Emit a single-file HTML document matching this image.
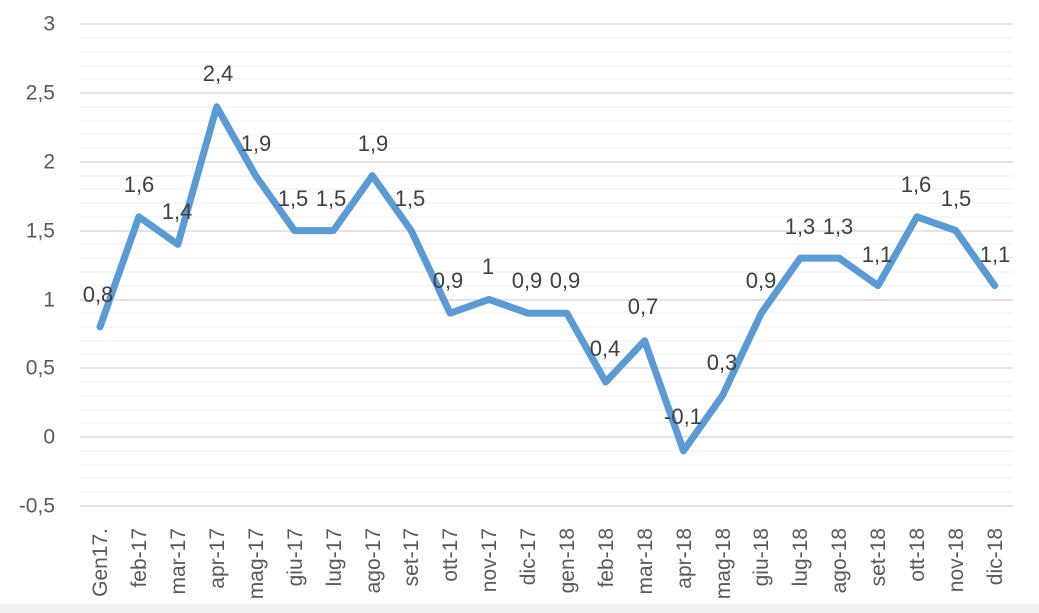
<!DOCTYPE html>
<html><head><meta charset="utf-8"><style>
html,body{margin:0;padding:0;background:#fff;}
svg{display:block;font-family:"Liberation Sans",sans-serif;}
</style></head><body>
<svg width="1039" height="613" viewBox="0 0 1039 613">
<rect x="0" y="604" width="1039" height="9" fill="#f0f0f0"/>
<g stroke="#f2f2f2" stroke-width="1.2">
<line x1="80" x2="1013" y1="38" y2="38"/><line x1="80" x2="1013" y1="52" y2="52"/><line x1="80" x2="1013" y1="66" y2="66"/><line x1="80" x2="1013" y1="79" y2="79"/>
<line x1="80" x2="1013" y1="107" y2="107"/><line x1="80" x2="1013" y1="121" y2="121"/><line x1="80" x2="1013" y1="134" y2="134"/><line x1="80" x2="1013" y1="148" y2="148"/>
<line x1="80" x2="1013" y1="176" y2="176"/><line x1="80" x2="1013" y1="189" y2="189"/><line x1="80" x2="1013" y1="203" y2="203"/><line x1="80" x2="1013" y1="217" y2="217"/>
<line x1="80" x2="1013" y1="244" y2="244"/><line x1="80" x2="1013" y1="258" y2="258"/><line x1="80" x2="1013" y1="272" y2="272"/><line x1="80" x2="1013" y1="286" y2="286"/>
<line x1="80" x2="1013" y1="313" y2="313"/><line x1="80" x2="1013" y1="327" y2="327"/><line x1="80" x2="1013" y1="341" y2="341"/><line x1="80" x2="1013" y1="354" y2="354"/>
<line x1="80" x2="1013" y1="382" y2="382"/><line x1="80" x2="1013" y1="396" y2="396"/><line x1="80" x2="1013" y1="410" y2="410"/><line x1="80" x2="1013" y1="423" y2="423"/>
<line x1="80" x2="1013" y1="451" y2="451"/><line x1="80" x2="1013" y1="465" y2="465"/><line x1="80" x2="1013" y1="478" y2="478"/><line x1="80" x2="1013" y1="492" y2="492"/>
</g>
<g stroke="#dcdcdc" stroke-width="1.6">
<line x1="80" x2="1013" y1="24" y2="24"/><line x1="80" x2="1013" y1="93" y2="93"/><line x1="80" x2="1013" y1="162" y2="162"/><line x1="80" x2="1013" y1="231" y2="231"/>
<line x1="80" x2="1013" y1="300" y2="300"/><line x1="80" x2="1013" y1="368" y2="368"/><line x1="80" x2="1013" y1="437" y2="437"/><line x1="80" x2="1013" y1="506" y2="506"/>
</g>
<g fill="#595959" font-size="21" text-anchor="end" dominant-baseline="middle">
<text x="55" y="25">3</text><text x="55" y="94">2,5</text><text x="55" y="163">2</text><text x="55" y="232">1,5</text>
<text x="55" y="301">1</text><text x="55" y="369">0,5</text><text x="55" y="438">0</text><text x="55" y="507">-0,5</text>
</g>
<polyline fill="none" stroke="#5b9bd5" stroke-width="7" stroke-linejoin="round" stroke-linecap="round"
points="100,326.9 138.9,216.8 177.8,244.4 216.7,106.8 255.6,175.6 294.5,230.6 333.4,230.6 372.3,175.6 411.2,230.6 450.1,313.2 489,299.4 527.9,313.2 566.8,313.2 605.7,382 644.6,340.7 683.5,450.8 722.4,395.7 761.3,313.2 800.2,258.1 839.1,258.1 878,285.6 916.9,216.8 955.8,230.6 994.7,285.6"/>
<g fill="#404040" font-size="22" text-anchor="middle" dominant-baseline="middle">
<text x="98" y="296">0,8</text><text x="139" y="186">1,6</text><text x="177" y="213">1,4</text><text x="218" y="75">2,4</text>
<text x="256" y="145">1,9</text><text x="293" y="200">1,5</text><text x="331" y="200">1,5</text><text x="373" y="145">1,9</text>
<text x="410" y="200">1,5</text><text x="448" y="282">0,9</text><text x="488" y="268">1</text><text x="527" y="282">0,9</text>
<text x="565" y="282">0,9</text><text x="605" y="350">0,4</text><text x="643" y="308">0,7</text><text x="683" y="418">-0,1</text>
<text x="722" y="364">0,3</text><text x="761" y="282">0,9</text><text x="800" y="228">1,3</text><text x="838" y="228">1,3</text>
<text x="877" y="256">1,1</text><text x="916" y="186">1,6</text><text x="956" y="200">1,5</text><text x="995" y="256">1,1</text>
</g>
<g fill="#595959" font-size="21" text-anchor="end">
<text transform="translate(107,528) rotate(-90)">Gen17.</text>
<text transform="translate(146,528) rotate(-90)">feb-17</text>
<text transform="translate(185,528) rotate(-90)">mar-17</text>
<text transform="translate(224,528) rotate(-90)">apr-17</text>
<text transform="translate(263,528) rotate(-90)">mag-17</text>
<text transform="translate(302,528) rotate(-90)">giu-17</text>
<text transform="translate(341,528) rotate(-90)">lug-17</text>
<text transform="translate(380,528) rotate(-90)">ago-17</text>
<text transform="translate(418,528) rotate(-90)">set-17</text>
<text transform="translate(457,528) rotate(-90)">ott-17</text>
<text transform="translate(496,528) rotate(-90)">nov-17</text>
<text transform="translate(535,528) rotate(-90)">dic-17</text>
<text transform="translate(574,528) rotate(-90)">gen-18</text>
<text transform="translate(613,528) rotate(-90)">feb-18</text>
<text transform="translate(652,528) rotate(-90)">mar-18</text>
<text transform="translate(691,528) rotate(-90)">apr-18</text>
<text transform="translate(730,528) rotate(-90)">mag-18</text>
<text transform="translate(768,528) rotate(-90)">giu-18</text>
<text transform="translate(807,528) rotate(-90)">lug-18</text>
<text transform="translate(846,528) rotate(-90)">ago-18</text>
<text transform="translate(885,528) rotate(-90)">set-18</text>
<text transform="translate(924,528) rotate(-90)">ott-18</text>
<text transform="translate(963,528) rotate(-90)">nov-18</text>
<text transform="translate(1002,528) rotate(-90)">dic-18</text>
</g>
</svg>
</body></html>
